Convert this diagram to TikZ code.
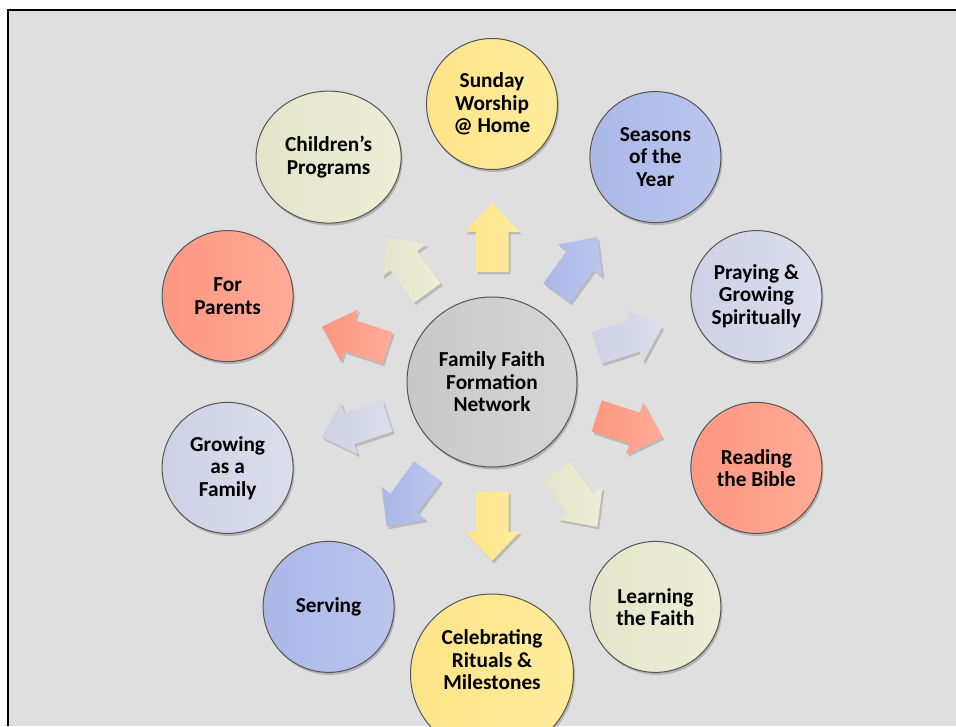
\documentclass[tikz,border=0pt]{standalone}
\usepackage{fontspec}
\setmainfont{Carlito}
\usetikzlibrary{shadows,shapes.geometric,calc}
\definecolor{bg}{RGB}{223,223,223}
\definecolor{bubline}{RGB}{85,85,85}
\definecolor{yelL}{RGB}{254,228,135}
\definecolor{yelR}{RGB}{255,236,158}
\definecolor{bluL}{RGB}{170,184,232}
\definecolor{bluR}{RGB}{188,198,236}
\definecolor{lavL}{RGB}{206,209,230}
\definecolor{lavR}{RGB}{220,222,236}
\definecolor{salL}{RGB}{255,150,128}
\definecolor{salR}{RGB}{255,172,152}
\definecolor{begL}{RGB}{228,228,202}
\definecolor{begR}{RGB}{238,238,216}
\definecolor{gryL}{RGB}{200,200,200}
\definecolor{gryR}{RGB}{214,214,214}
\tikzset{
  bub/.style={circle, draw=bubline, line width=1pt, minimum size=131pt, inner sep=0pt,
    align=center, font=\fontsize{21.3}{22.5}\selectfont\bfseries, text=black,
    drop shadow={shadow xshift=1.5pt, shadow yshift=-2.5pt, opacity=0.3, fill=black!70}},
  shade yel/.style={left color=yelL, right color=yelR},
  shade blu/.style={left color=bluL, right color=bluR},
  shade lav/.style={left color=lavL, right color=lavR},
  shade sal/.style={left color=salL, right color=salR},
  shade beg/.style={left color=begL, right color=begR},
  shade gry/.style={left color=gryL, right color=gryR},
  arrowshadow/.style={drop shadow={shadow xshift=2pt, shadow yshift=-2.5pt, opacity=0.25, fill=black!70}}
}
\newcommand\blockarrow[2]{%
  \begin{scope}[shift={(C)}, rotate=#1]
    \path[#2, arrowshadow] (110,-16.5) -- (150,-16.5) -- (150,-27.5) -- (179,0)
      -- (150,27.5) -- (150,16.5) -- (110,16.5) -- cycle;
  \end{scope}}
\begin{document}
\begin{tikzpicture}[x=1pt,y=1pt]
\useasboundingbox (0,0) rectangle (956,726);
\fill[white] (0,0) rectangle (956,726);
\fill[bg] (8,0) rectangle (956,716);
\draw[line width=2.5pt] (8,0) -- (8,716) -- (956,716);
\coordinate (C) at (492,344);

% arrows
\blockarrow{90}{shade yel}
\blockarrow{54}{shade blu}
\blockarrow{18}{shade lav}
\blockarrow{-18}{shade sal}
\blockarrow{-54}{shade beg}
\blockarrow{-90}{shade yel}
\blockarrow{-126}{shade blu}
\blockarrow{-162}{shade lav}
\blockarrow{162}{shade sal}
\blockarrow{126}{shade beg}

% hub
\node[bub, shade gry, minimum size=170pt] (hub) at (C) {Family Faith\\Formation\\Network};

% satellites
\node[bub, shade yel] (sunday) at ($(C)+(90:278)$) {Sunday\\Worship\\@ Home};
\node[bub, shade blu] (seasons) at ($(C)+(54:278)$) {Seasons\\of the\\Year};
\node[bub, shade lav] (praying) at ($(C)+(18:278)$) {Praying \&\\Growing\\Spiritually};
\node[bub, shade sal] (bible) at ($(C)+(-18:278)$) {Reading\\the Bible};
\node[bub, shade beg] (learning) at ($(C)+(-54:278)$) {Learning\\the Faith};
\node[bub, ellipse, shade yel, minimum width=163pt, minimum height=160pt] (celebr) at ($(C)+(-90:292)$) {};
\node[font=\fontsize{21.3}{22.5}\selectfont\bfseries, align=center] (celebrtext) at ($(C)+(-90:278)$) {Celebrating\\Rituals \&\\Milestones};
\node[bub, shade blu] (serving) at ($(C)+(-126:278)$) {Serving};
\node[bub, shade lav] (growing) at ($(C)+(-162:278)$) {Growing\\as a\\Family};
\node[bub, shade sal] (parents) at ($(C)+(162:278)$) {For\\Parents};
\node[bub, ellipse, shade beg, minimum width=145pt, minimum height=132pt] (children) at ($(C)+(126:278)$) {Children’s\\Programs};
\end{tikzpicture}
\end{document}
